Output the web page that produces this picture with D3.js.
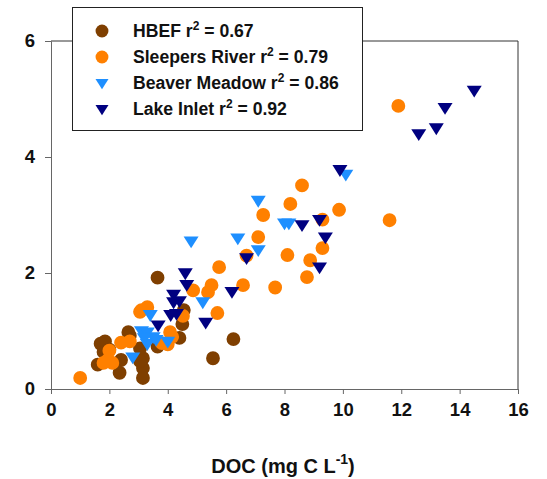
<!DOCTYPE html>
<html>
<head>
<meta charset="utf-8">
<title>DOC scatter</title>
<style>
  body {margin: 0; background: #fff;}
  svg {display: block; font-family: "Liberation Sans", Arial, sans-serif; font-weight: bold;}
</style>
</head>
<body>
<svg></svg>
<script src="https://d3js.org/d3.v7.min.js"></script>
<script>
// site names, r² values and colours
const sites = ["HBEF", "Sleepers River", "Beaver Meadow", "Lake Inlet"];
const r2 = ["0.67", "0.79", "0.86", "0.92"];
const colors = ["#7f3f00", "#ff8000", "#1e8fff", "#000080"];
const shapes = ["circle", "circle", "triangle", "triangle"];

const xTicks = [0, 2, 4, 6, 8, 10, 12, 14, 16];
const yTicks = [0, 2, 4, 6];

// [DOC, y] pairs per site
const hbef = [[3.65,1.92],[6.25,0.86],[5.55,0.53],[3.15,0.53],[3.15,0.36],[3.15,0.19],[2.65,0.98],
  [2.7,0.92],[1.85,0.82],[1.7,0.78],[1.8,0.64],[1.6,0.42],[2.4,0.5],[2.35,0.28],[4.4,0.88],
  [4.5,1.12],[4.55,1.36],[3.05,0.7],[3.05,0.48],[3.65,0.73],[2.0,0.68]];
const sleepers = [[11.9,4.88],[8.6,3.51],[8.2,3.19],[7.27,3.0],[9.87,3.09],[11.6,2.91],[9.3,2.92],
  [7.1,2.62],[9.3,2.43],[8.1,2.31],[8.88,2.22],[8.77,1.93],[7.68,1.75],[6.58,1.79],[6.7,2.3],
  [5.76,2.1],[5.5,1.79],[5.38,1.67],[5.7,1.31],[4.87,1.7],[4.52,1.26],[4.08,0.98],[4.0,0.77],
  [3.3,1.41],[3.1,1.36],[3.05,1.33],[2.7,0.82],[2.4,0.8],[2.0,0.66],[1.95,0.5],[1.8,0.45],
  [2.1,0.45],[1.0,0.19],[3.8,0.79],[4.15,0.9]];
const beaver = [[10.1,3.7],[7.1,3.25],[8.0,2.86],[8.15,2.86],[6.4,2.6],[7.1,2.4],[4.8,2.55],
  [5.2,1.5],[3.4,1.28],[3.1,1.0],[3.3,0.98],[3.5,0.9],[3.3,0.78],[3.6,0.85],[4.0,0.82],
  [2.8,0.55],[3.2,0.88]];
const lake = [[14.5,5.15],[13.5,4.85],[13.2,4.5],[12.6,4.4],[9.9,3.78],[9.2,2.92],[9.4,2.62],
  [9.2,2.1],[8.6,2.83],[6.7,2.26],[6.2,1.68],[5.3,1.15],[4.6,2.0],[4.65,1.8],[4.2,1.63],
  [4.2,1.5],[4.4,1.52],[4.1,1.28],[4.3,1.3],[3.67,1.1]];
const series = [hbef, sleepers, beaver, lake];

const width = 547, height = 479;
const mLeft = 51, mRight = 518, mTop = 41, mBottom = 389;

const svg = d3.select("svg").attr("width", width).attr("height", height);

const x = d3.scaleLinear().domain([0, 16]).range([mLeft, mRight]);
const y = d3.scaleLinear().domain([0, 6]).range([mBottom, mTop]);

// frame top / right
svg.append("path")
  .attr("d", `M${mLeft},${mTop}H${mRight}V${mBottom}`)
  .attr("fill", "none").attr("stroke", "#333").attr("stroke-width", 1);

const xAxis = svg.append("g")
  .attr("transform", `translate(0,${mBottom})`)
  .call(d3.axisBottom(x).tickValues(xTicks).tickFormat(d3.format("d")).tickSize(5).tickPadding(9));
const yAxis = svg.append("g")
  .attr("transform", `translate(${mLeft},0)`)
  .call(d3.axisLeft(y).tickValues(yTicks).tickFormat(d3.format("d")).tickSize(6).tickPadding(10));

[xAxis, yAxis].forEach(g => {
  g.select(".domain").attr("stroke", "#666");
  g.selectAll(".tick line").attr("stroke", "#666");
  g.selectAll(".tick text")
    .attr("fill", "#111")
    .style("font-size", "18.5px")
    .style("font-weight", "bold")
    .style("font-family", "'Liberation Sans', Arial, sans-serif");
});

const circle = d3.symbol().type(d3.symbolCircle).size(150);
const tri = 7.5;
function triPath(s) {
  return `M${-s},${-s * 0.62}L${s},${-s * 0.62}L0,${s * 0.95}Z`;
}

series.forEach((pts, i) => {
  svg.append("g").selectAll("path")
    .data(pts)
    .join("path")
    .attr("transform", d => `translate(${x(d[0])},${y(d[1])})`)
    .attr("d", shapes[i] === "circle" ? circle() : triPath(tri))
    .attr("fill", colors[i]);
});

// legend
const lg = svg.append("g");
lg.append("rect")
  .attr("x", 72.5).attr("y", 7.5).attr("width", 290).attr("height", 123)
  .attr("fill", "#fff").attr("stroke", "#222").attr("stroke-width", 1);

sites.forEach((s, i) => {
  const cy = 31 + i * 26;
  lg.append("path")
    .attr("transform", `translate(102,${cy})`)
    .attr("d", shapes[i] === "circle" ? d3.symbol().type(d3.symbolCircle).size(130)() : triPath(6.5))
    .attr("fill", colors[i]);
  const t = lg.append("text")
    .attr("x", 133).attr("y", cy + 6)
    .attr("fill", "#111")
    .style("font-size", "17.6px");
  t.append("tspan").text(s + " r");
  t.append("tspan").attr("dy", -7).style("font-size", "12px").text("2");
  t.append("tspan").attr("dy", 7).text(" = " + r2[i]);
});

// x title
const xt = svg.append("text")
  .attr("x", 283).attr("y", 473)
  .attr("text-anchor", "middle")
  .attr("fill", "#111")
  .style("font-size", "20px");
xt.append("tspan").text("DOC (mg C L");
xt.append("tspan").attr("dy", -9).style("font-size", "14px").text("-1");
xt.append("tspan").attr("dy", 9).text(")");
</script>
</body>
</html>
